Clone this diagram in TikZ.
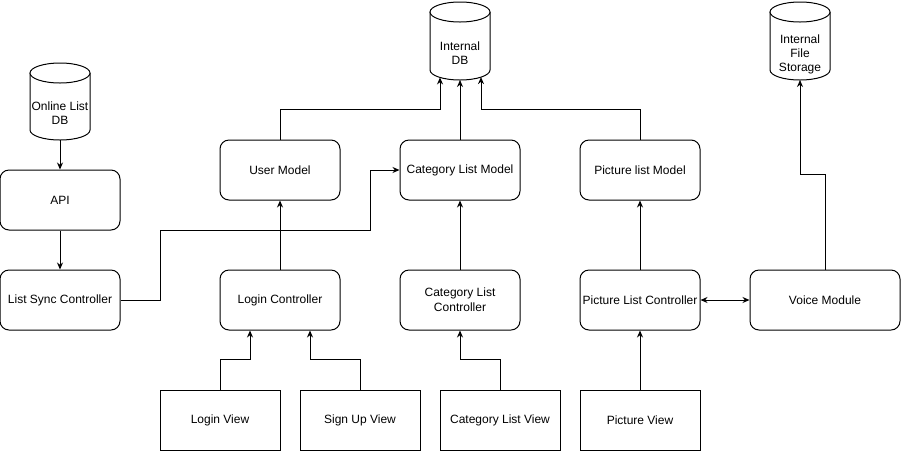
\documentclass[tikz,border=0pt]{standalone}
\usepackage{fontspec}
\setmainfont{Liberation Sans}
\usetikzlibrary{arrows.meta,calc}
\newcommand\mycyl[3]{%
  \draw[line width=1pt,fill=white] (#1-30,-#2-10) -- (#1-30,-#3+10) arc[start angle=180,end angle=360,x radius=30,y radius=10] -- (#1+30,-#2-10);
  \draw[line width=1pt,fill=white] (#1,-#2-10) ellipse[x radius=30,y radius=10];}
\begin{document}
\begin{tikzpicture}[x=1pt,y=1pt,
  box/.style={draw, line width=1pt, rounded corners=9pt, minimum width=120pt, minimum height=60pt, inner sep=0pt, align=center, font=\fontsize{12}{15}\selectfont},
  viewbox/.style={box, rounded corners=0pt},
  cyltext/.style={align=center, inner sep=0pt, font=\fontsize{12}{14}\selectfont},
  link/.style={line width=1pt, -{Stealth[length=7pt,width=6pt]}},
  duallink/.style={line width=1pt, {Stealth[length=7pt,width=6pt]}-{Stealth[length=7pt,width=6pt]}}
]
\fill[white] (0,0) rectangle (901,-451);
\useasboundingbox (0,0) rectangle (901,-451);

% cylinders
\mycyl{60}{63}{140}
\mycyl{460}{2}{80}
\mycyl{800}{2}{80}
\node[cyltext] (odb) at (60,-113) {Online List\\DB};
\node[cyltext] (idb) at (460,-53) {Internal\\DB};
\node[cyltext] (ifs) at (800,-54) {Internal\\File\\Storage};
\coordinate (odb-b) at (60,-140);
\coordinate (idb-l) at (440,-77.45);
\coordinate (idb-c) at (460,-80);
\coordinate (idb-r) at (481,-77.1);
\coordinate (ifs-b) at (800,-80);

% boxes
\node[box] (api) at (60,-200) {API};
\node[box] (lsc) at (60,-300) {List Sync Controller};
\node[box] (um) at (280,-170) {User Model};
\node[box] (clm) at (460,-170) {Category List Model};
\node[box] (plm) at (640,-170) {Picture list Model};
\node[box] (lc) at (280,-300) {Login Controller};
\node[box] (clc) at (460,-300) {Category List\\Controller};
\node[box] (plc) at (640,-300) {Picture List Controller};
\node[box, minimum width=150pt] (vm) at (825,-300) {Voice Module};
\node[viewbox] (lv) at (220,-420) {Login View};
\node[viewbox] (suv) at (360,-420) {Sign Up View};
\node[viewbox] (clv) at (500,-420) {Category List View};
\node[viewbox] (pv) at (640,-420) {Picture View};

% connectors
\draw[link] (odb-b) -- (api.north);
\draw[link] (api) -- (lsc);
\draw[link] (lsc.east) -- ++(40,0) -- ++(0,70) -- ++(210,0) |- (clm.west);
\draw[link] (lc) -- (um);
\draw[link] (um.north) -- ++(0,30) -| (idb-l);
\draw[link] (clm.north) -- (idb-c);
\draw[link] (plm.north) -- ++(0,30) -| (idb-r);
\draw[link] (clc) -- (clm);
\draw[link] (plc) -- (plm);
\draw[duallink] (plc.east) -- (vm.west);
\draw[link] (vm.north) -- ++(0,95) -| (ifs-b);
\draw[link] (lv.north) -- ++(0,30) -| ($(lc.south)+(-30,0)$);
\draw[link] (suv.north) -- ++(0,30) -| ($(lc.south)+(30,0)$);
\draw[link] (clv.north) -- ++(0,30) -| (clc.south);
\draw[link] (pv) -- (plc);
\end{tikzpicture}
\end{document}
